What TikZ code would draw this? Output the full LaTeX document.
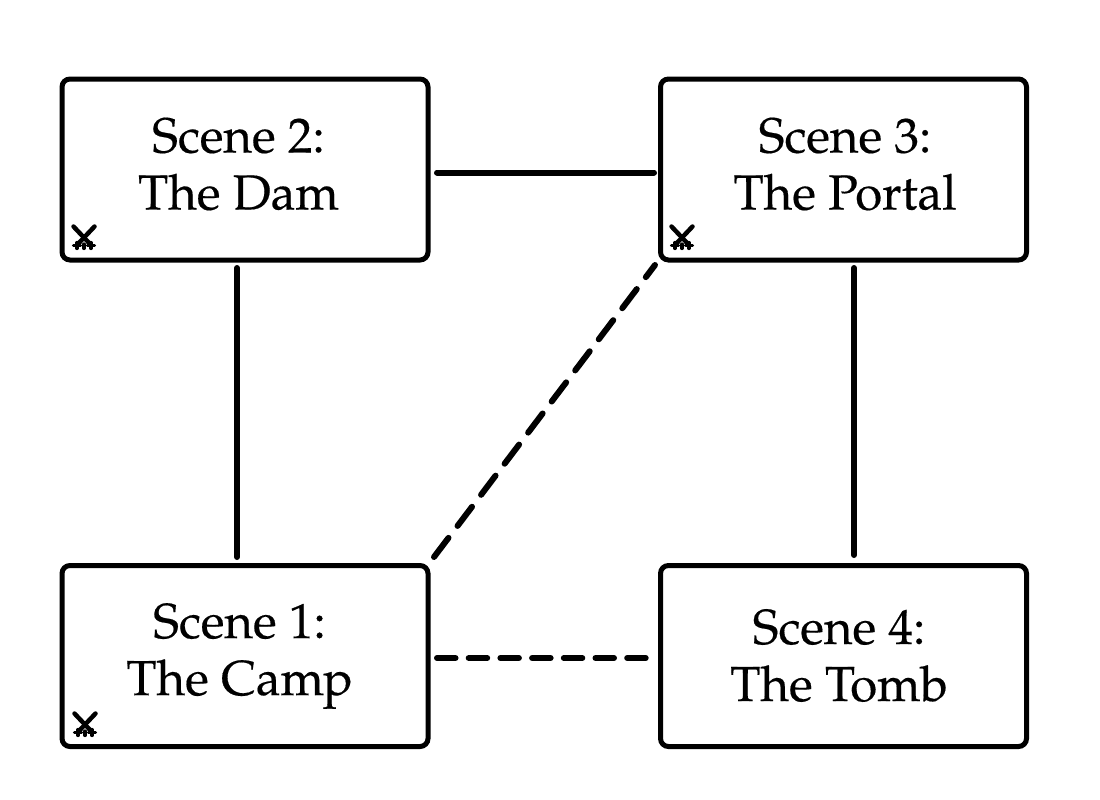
\documentclass[tikz,border=0pt]{standalone}
\usepackage{fontspec}
\setmainfont{TeX Gyre Pagella}[FakeBold=0.35]
\tikzset{
  x=1pt,y=-1pt,
  scenebox/.style={draw=black,line width=5pt,rounded corners=8pt,minimum width=366pt,minimum height=181pt,outer sep=0pt,inner sep=0pt},
  scenetext/.style={align=center,inner sep=0pt,font=\fontsize{49.2}{57}\selectfont},
  conn/.style={line width=6pt,line cap=round,black},
  dashdiag/.style={conn,dash pattern=on 24pt off 15pt},
  dashflat/.style={conn,dash pattern=on 18.5pt off 13.2pt},
  sword/.style={line width=4.5pt,line cap=round,black},
  hilt/.style={line width=3.2pt,line cap=round,black}
}
\newcommand{\swords}[2]{%
  \begin{scope}[shift={(#1,#2)}]
    \draw[sword] (-10.5,-10) -- (6.5,8);
    \draw[sword] (10.5,-10) -- (-6.5,8);
    \draw[hilt] (-10.5,9) -- (-3.5,9) (3.5,9) -- (10.5,9) (-7,6) -- (-7,12) (7,6) -- (7,12) (0,7.5) -- (0,12);
  \end{scope}}
\begin{document}
\begin{tikzpicture}
\useasboundingbox (0,0) rectangle (1100,800);
\node[scenebox] (b2) at (245,169.5) {};
\node[scenebox] (b3) at (843.5,169.5) {};
\node[scenebox] (b1) at (245,656) {};
\node[scenebox] (b4) at (843.5,656) {};
\node[scenetext] (t2) at (238.5,164) {Scene 2:\\The Dam};
\node[scenetext] (t3) at (845,164) {Scene 3:\\The Portal};
\node[scenetext] (t1) at (239.5,656) {Scene 1:\\The Camp};
\node[scenetext] (t4) at (839,655.5) {Scene 4:\\The Tomb};
\draw[conn] ([shift={(9,3)}]b2.east) -- ([shift={(-6.5,3)}]b3.west);
\draw[conn] ([shift={(-8,8)}]b2.south) -- ([shift={(-8,-8.5)}]b1.north);
\draw[conn] ([shift={(10.5,8)}]b3.south) -- ([shift={(10.5,-10.5)}]b4.north);
\draw[dashdiag] ([shift={(6,-8.5)}]b1.north east) -- ([shift={(-5.5,5)}]b3.south west);
\draw[dashflat] ([shift={(9,2)}]b1.east) -- ([shift={(-13.5,2)}]b4.west);
\swords{84}{236.5}
\swords{682}{236.5}
\swords{85}{723.5}
\end{tikzpicture}
\end{document}
